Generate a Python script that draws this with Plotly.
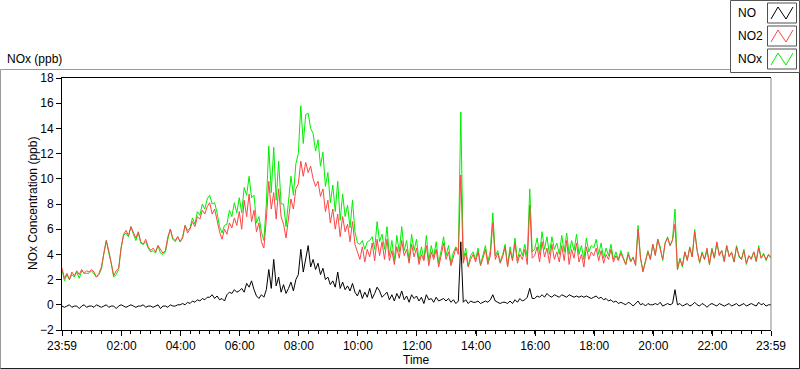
import pandas as pd
import plotly.graph_objects as go

# ---- data (5-minute samples from 23:59 to 23:59 next day) ----
start_time = "2020-01-01 23:59"
step = "5min"

no = [
    -0.1, -0.2, -0.1, 0.0, -0.2, -0.1, -0.1, -0.3, -0.1, 0.0, -0.2, -0.1,
    -0.1, -0.2, 0.0, -0.1, -0.2, -0.1, 0.0, -0.2, -0.1, -0.1, -0.3, -0.1,
    0.0, -0.1, -0.2, -0.1, 0.0, -0.1, -0.2, -0.1, -0.1, 0.0, -0.2, -0.1,
    -0.1, -0.2, -0.1, 0.0, -0.3, -0.1, -0.1, -0.2, 0.0, -0.1, -0.1, 0.0,
    0.0, 0.1, 0.0, 0.2, 0.1, 0.3, 0.2, 0.4, 0.3, 0.5, 0.4, 0.6,
    0.6, 0.8, 0.5, 0.7, 0.4, 0.5, 0.3, 0.8, 1.0, 0.9, 1.2, 1.0,
    1.1, 1.3, 1.0, 1.7, 1.4, 1.9, 1.2, 0.7, 0.5, 0.8, 0.6, 1.2,
    2.8, 1.3, 3.6, 1.5, 2.2, 1.0, 1.6, 0.9, 1.3, 1.8, 1.1, 2.0,
    2.4, 4.4, 2.6, 3.8, 4.7, 3.0, 3.6, 2.8, 3.3, 2.4, 2.9, 2.0,
    2.2, 1.6, 1.9, 1.4, 2.6, 1.3, 1.8, 1.2, 1.5, 1.1, 1.7, 1.0,
    0.7, 1.2, 0.5, 1.0, 0.6, 1.3, 0.5, 0.9, 1.4, 1.1, 0.6, 0.8,
    1.0, 0.4, 0.8, 0.3, 0.9, 0.5, 1.1, 0.4, 0.7, 0.2, 0.8, 0.5,
    0.7, 0.3, 0.6, 0.1, 0.8, 0.4, 0.5, 0.2, 0.6, 0.3, 0.4, 0.5,
    0.3, 0.5, 0.2, 0.4, 0.1, 0.3, 5.0, 0.2, 0.4, 0.1, 0.3, 0.2,
    0.2, 0.3, 0.1, 0.2, 0.3, 0.2, 0.4, 0.8, 0.3, 0.2, 0.1, 0.2,
    0.2, 0.1, 0.3, 0.1, 0.4, 0.2, 0.5, 0.3, 0.4, 0.6, 1.3, 0.5,
    0.5, 0.7, 0.6, 0.8, 0.6, 0.9, 0.7, 0.6, 0.8, 0.7, 0.6, 0.8,
    0.7, 0.6, 0.8, 0.7, 0.6, 0.7, 0.6, 0.7, 0.6, 0.7, 0.6, 0.5,
    0.6, 0.7, 0.5, 0.6, 0.4, 0.5, 0.3, 0.4, 0.2, 0.3, 0.1, 0.2,
    0.1, 0.0, 0.2, 0.1, -0.1, 0.1, 0.3, 0.0, 0.1, -0.1, 0.1, 0.0,
    0.0, 0.1, 0.0, 0.2, -0.1, 0.0, 0.1, 0.0, 0.1, 1.2, 0.0, 0.1,
    -0.1, 0.0, 0.1, -0.1, 0.0, 0.2, 0.0, -0.1, 0.1, 0.0, -0.2, 0.0,
    0.1, 0.0, -0.1, 0.1, 0.0, -0.1, 0.0, 0.1, -0.1, 0.0, 0.1, -0.1,
    0.0, 0.1, -0.1, 0.0, 0.1, 0.0, -0.1, 0.2, 0.0, 0.1, -0.1, 0.0, 0.0,
]

no2 = [
    2.9, 2.1, 2.5, 2.0, 2.6, 2.3, 2.7, 2.4, 2.8, 2.5, 2.7, 2.6,
    2.8, 2.6, 2.2, 2.5, 3.0, 4.2, 5.1, 4.3, 3.4, 2.3, 2.7, 2.9,
    4.5, 5.6, 5.9, 5.5, 6.2, 5.7, 5.3, 5.8, 5.0, 4.8, 5.2, 4.6,
    4.3, 4.5, 4.2, 4.7, 4.4, 4.1, 4.3, 5.4, 6.0, 5.3, 5.1, 5.4,
    5.0, 5.3, 6.3, 5.7, 6.0, 6.6, 6.2, 7.0, 6.8, 7.5, 7.2, 7.8,
    8.1, 7.2, 7.6, 6.6, 5.8, 5.2, 6.0, 5.6, 6.5, 6.1, 6.9, 6.3,
    7.4, 6.0, 8.3, 7.0, 8.8, 6.6, 7.5, 5.8, 6.5, 5.0, 4.5, 6.8,
    9.8, 7.6, 8.9, 6.8, 9.2, 7.0, 6.4, 5.3, 6.8, 8.4, 7.6, 9.2,
    9.6, 11.4, 10.2, 11.3, 10.5, 11.0, 10.0, 9.4, 9.8, 8.6, 9.2, 7.4,
    8.3, 6.5, 7.6, 6.0, 7.2, 5.4, 7.0, 5.8, 6.4, 5.0, 6.6, 4.8,
    4.2, 3.6, 4.6, 3.4, 4.4, 3.8, 4.9, 3.5, 5.2, 3.9, 5.0, 3.6,
    5.2, 3.5, 4.3, 3.2, 4.6, 3.7, 5.1, 3.9, 4.4, 3.3, 4.8, 3.8,
    4.5, 3.2, 4.0, 3.5, 4.7, 3.1, 4.2, 3.6, 4.4, 3.0, 3.9, 4.9,
    3.6, 4.2, 3.1, 3.8, 4.5, 4.0, 10.3, 3.3, 4.1, 3.0, 3.6, 4.0,
    3.4, 4.2, 3.1, 3.7, 4.4, 3.2, 3.9, 6.5, 3.6, 4.1, 3.3, 3.8,
    4.6, 3.0, 4.3, 3.5, 4.9, 3.3, 4.0, 3.6, 4.4, 3.2, 7.9, 3.7,
    3.9, 4.6, 3.4, 5.0, 3.8, 4.5, 3.3, 4.8, 3.6, 4.2, 3.4, 4.7,
    3.5, 5.1, 3.2, 4.4, 3.7, 4.9, 3.4, 4.0, 3.0, 4.6, 3.6, 4.2,
    3.9, 4.5, 3.5, 4.3, 3.3, 4.0, 3.6, 4.4, 3.4, 3.9, 3.5, 4.1,
    3.6, 3.2, 4.0, 3.4, 3.8, 3.1, 6.0, 3.7, 2.6, 3.5, 4.2, 3.6,
    4.8, 3.9, 5.2, 4.4, 3.6, 4.9, 5.3, 4.7, 5.1, 6.4, 2.8, 3.6,
    3.1, 4.2, 3.5, 4.6, 3.8, 5.8, 4.3, 3.4, 4.1, 3.6, 4.5, 3.2,
    4.4, 3.7, 5.0, 3.9, 4.3, 3.5, 4.7, 3.8, 4.2, 3.4, 4.6, 3.9,
    3.6, 4.3, 3.3, 3.9, 3.6, 4.2, 3.5, 4.5, 3.7, 4.0, 3.6, 4.0, 3.7,
]

nox = [
    2.8, 1.9, 2.4, 2.0, 2.4, 2.2, 2.6, 2.1, 2.7, 2.5, 2.5, 2.5,
    2.7, 2.4, 2.2, 2.4, 2.8, 4.1, 5.1, 4.1, 3.3, 2.2, 2.4, 2.8,
    4.5, 5.5, 5.7, 5.4, 6.2, 5.6, 5.1, 5.7, 4.9, 4.8, 5.0, 4.5,
    4.2, 4.3, 4.1, 4.7, 4.1, 4.0, 4.2, 5.2, 6.0, 5.2, 5.0, 5.4,
    5.0, 5.4, 6.3, 5.9, 6.1, 6.9, 6.4, 7.4, 7.1, 8.0, 7.6, 8.4,
    8.7, 8.0, 8.1, 7.3, 6.2, 5.7, 6.3, 6.4, 7.5, 7.0, 8.1, 7.3,
    8.5, 7.3, 9.3, 8.7, 10.2, 8.5, 8.7, 6.5, 7.0, 5.8, 5.1, 8.0,
    12.6, 8.9, 12.5, 8.3, 11.4, 8.0, 8.0, 6.2, 8.1, 10.2, 8.7, 11.2,
    12.0, 15.8, 12.8, 15.1, 15.2, 14.0, 13.6, 12.2, 13.1, 11.0, 12.1, 9.4,
    10.5, 8.1, 9.5, 7.4, 9.8, 6.7, 8.8, 7.0, 7.9, 6.1, 8.3, 5.8,
    4.9, 4.8, 5.1, 4.4, 5.0, 5.1, 5.4, 4.4, 6.6, 5.0, 5.6, 4.4,
    6.2, 3.9, 5.1, 3.5, 5.5, 4.2, 6.2, 4.3, 5.1, 3.5, 5.6, 4.3,
    5.2, 3.5, 4.6, 3.6, 5.5, 3.5, 4.7, 3.8, 5.0, 3.3, 4.3, 5.4,
    3.9, 4.7, 3.3, 4.2, 4.6, 4.3, 15.3, 3.5, 4.5, 3.1, 3.9, 4.2,
    3.6, 4.5, 3.2, 3.9, 4.7, 3.4, 4.3, 7.3, 3.9, 4.3, 3.4, 4.0,
    4.8, 3.1, 4.6, 3.6, 5.3, 3.5, 4.5, 3.9, 4.8, 3.8, 9.2, 4.2,
    4.4, 5.3, 4.0, 5.8, 4.4, 5.4, 4.0, 5.4, 4.4, 4.9, 4.0, 5.5,
    4.2, 5.7, 4.0, 5.1, 4.3, 5.6, 4.0, 4.7, 3.6, 5.3, 4.2, 4.7,
    4.5, 5.2, 4.0, 4.9, 3.7, 4.5, 3.9, 4.8, 3.6, 4.2, 3.6, 4.3,
    3.7, 3.2, 4.2, 3.5, 3.7, 3.2, 6.3, 3.7, 2.7, 3.4, 4.3, 3.6,
    4.8, 4.0, 5.2, 4.6, 3.5, 4.9, 5.4, 4.7, 5.2, 7.6, 2.8, 3.7,
    3.0, 4.2, 3.6, 4.5, 3.8, 6.0, 4.3, 3.3, 4.2, 3.6, 4.3, 3.2,
    4.5, 3.7, 4.9, 4.0, 4.3, 3.4, 4.7, 3.9, 4.1, 3.4, 4.7, 3.8,
    3.6, 4.4, 3.2, 3.9, 3.7, 4.2, 3.4, 4.7, 3.7, 4.1, 3.5, 4.0, 3.7,
]

tick_times = ["2020-01-01 23:59", "2020-01-02 02:00", "2020-01-02 04:00",
              "2020-01-02 06:00", "2020-01-02 08:00", "2020-01-02 10:00",
              "2020-01-02 12:00", "2020-01-02 14:00", "2020-01-02 16:00",
              "2020-01-02 18:00", "2020-01-02 20:00", "2020-01-02 22:00",
              "2020-01-02 23:59"]
tick_labels = ["23:59", "02:00", "04:00", "06:00", "08:00", "10:00", "12:00",
               "14:00", "16:00", "18:00", "20:00", "22:00", "23:59"]

series_names = ["NO", "NO2", "NOx"]
series_colors = ["#000000", "#ff4444", "#00ee00"]

times = pd.date_range(start=start_time, periods=len(no2), freq=step)

# ---- geometry helpers (pixel -> paper coords) ----
W, H = 800, 369
L, R, T, B = 62, 29, 78, 39
PW, PH = W - L - R, H - T - B


def px(x):
    return (x - L) / PW


def py(y):
    return (H - B - y) / PH


FONT = "Liberation Sans"

fig = go.Figure()
fig.add_trace(go.Scatter(x=times, y=nox, mode="lines", name="NOx",
                         line=dict(color=series_colors[2], width=1)))
fig.add_trace(go.Scatter(x=times, y=no2, mode="lines", name="NO2",
                         line=dict(color=series_colors[1], width=1)))
fig.add_trace(go.Scatter(x=times, y=no, mode="lines", name="NO",
                         line=dict(color=series_colors[0], width=1)))

shapes = []
# outer panel frame
shapes.append(dict(type="rect", xref="paper", yref="paper",
                   x0=px(0.5), x1=px(799.5), y0=py(368.5), y1=py(69.5),
                   line=dict(color="#9a9a9a", width=1), layer="below"))
shapes.append(dict(type="line", xref="paper", yref="paper",
                   x0=px(0.5), x1=px(799.5), y0=py(368.5), y1=py(368.5),
                   line=dict(color="#202020", width=1)))
shapes.append(dict(type="line", xref="paper", yref="paper",
                   x0=px(799.5), x1=px(799.5), y0=py(368.5), y1=py(69.5),
                   line=dict(color="#202020", width=1)))
# right border of plot area (grey)
shapes.append(dict(type="line", xref="paper", yref="paper",
                   x0=1, x1=1, y0=0, y1=1,
                   line=dict(color="#8a8a8a", width=1)))
# legend box
shapes.append(dict(type="rect", xref="paper", yref="paper",
                   x0=px(730.5), x1=px(799.5), y0=py(72.5), y1=py(0.5),
                   fillcolor="white", line=dict(color="#555555", width=1)))

annotations = []
legend_rows = [13, 36, 59]
for name, col, yc in zip(series_names, series_colors, legend_rows):
    annotations.append(dict(xref="paper", yref="paper", x=px(736), y=py(yc),
                            text=name, showarrow=False, xanchor="left",
                            yanchor="middle",
                            font=dict(family=FONT, size=12, color="#000000")))
    shapes.append(dict(type="rect", xref="paper", yref="paper",
                       x0=px(767.5), x1=px(796.5), y0=py(yc + 10),
                       y1=py(yc - 10), fillcolor="white",
                       line=dict(color="#505050", width=1)))
    path = "M {} {} L {} {} L {} {} L {} {}".format(
        px(771), py(yc + 6), px(778), py(yc - 6),
        px(786), py(yc + 6), px(793), py(yc - 6))
    shapes.append(dict(type="path", xref="paper", yref="paper", path=path,
                       line=dict(color=col, width=1)))

annotations.append(dict(xref="paper", yref="paper", x=px(5), y=py(59),
                        text="NOx (ppb)", showarrow=False, xanchor="left",
                        yanchor="middle",
                        font=dict(family=FONT, size=12, color="#000000")))
annotations.append(dict(xref="paper", yref="paper", x=px(33), y=0.5,
                        text="NOx Concentration (ppb)", showarrow=False,
                        textangle=-90, xanchor="center", yanchor="middle",
                        font=dict(family=FONT, size=12, color="#000000")))
annotations.append(dict(xref="paper", yref="paper", x=0.5, y=py(360),
                        text="Time", showarrow=False, xanchor="center",
                        yanchor="middle",
                        font=dict(family=FONT, size=12, color="#000000")))

fig.update_layout(
    width=W, height=H,
    margin=dict(l=L, r=R, t=T, b=B, autoexpand=False),
    paper_bgcolor="white", plot_bgcolor="white",
    showlegend=False,
    hovermode=False,
    font=dict(family=FONT, size=12, color="#000000"),
    shapes=shapes, annotations=annotations,
    xaxis=dict(
        type="date",
        range=[tick_times[0], tick_times[-1]],
        tickmode="array", tickvals=tick_times, ticktext=tick_labels,
        ticks="outside", ticklen=5, tickcolor="#000000", tickwidth=1,
        showline=True, linecolor="#000000", linewidth=1, mirror=True,
        showgrid=False, zeroline=False,
        minor=dict(ticks="outside", ticklen=3, tickcolor="#000000",
                   tick0=tick_times[0], dtick=20 * 60 * 1000, showgrid=False),
        tickfont=dict(family=FONT, size=12, color="#000000"),
        fixedrange=True,
    ),
    yaxis=dict(
        range=[-2, 18], tickmode="linear", tick0=-2, dtick=2,
        ticks="outside", ticklen=5, tickcolor="#000000", tickwidth=1,
        showline=True, linecolor="#000000", linewidth=1, mirror=False,
        showgrid=False, zeroline=False,
        tickfont=dict(family=FONT, size=12, color="#000000"),
        fixedrange=True,
    ),
)

fig.write_html("out.html",
               config={"displayModeBar": False, "staticPlot": True},
               post_script="document.body.style.margin='0px';"
                           "document.body.style.overflow='hidden';")
